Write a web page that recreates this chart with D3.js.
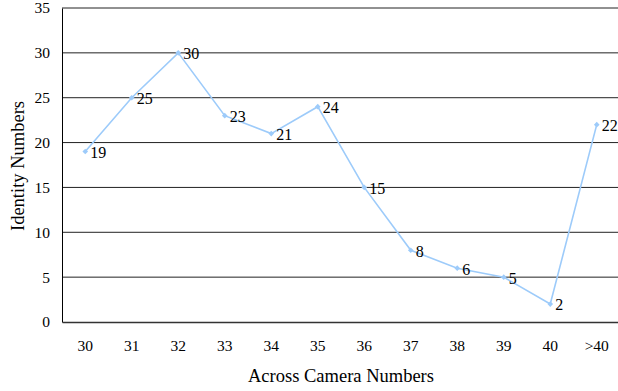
<!DOCTYPE html>
<html>
<head>
<meta charset="utf-8">
<script src="https://cdn.jsdelivr.net/npm/d3@7"></script>
<style>
  body { margin: 0; background: #fff; }
  text { font-family: 'Liberation Serif', 'Times New Roman', serif; fill: #000; }
</style>
</head>
<body>
<div id="chart"></div>
<script>
const categories = ['30', '31', '32', '33', '34', '35', '36', '37', '38', '39', '40', '>40']
const identityNumbers = [19, 25, 30, 23, 21, 24, 15, 8, 6, 5, 2, 22]
const yTicks = [0, 5, 10, 15, 20, 25, 30, 35]

const width = 618, height = 391
const MARGIN = { top: 8, right: -2, bottom: 69, left: 62 }
const W = width - MARGIN.left - MARGIN.right
const H = height - MARGIN.top - MARGIN.bottom

const svg = d3.select('#chart').append('svg').attr('width', width).attr('height', height)
const g = svg.append('g').attr('transform', `translate(${MARGIN.left},${MARGIN.top})`)

const x = d3.scaleBand().domain(categories).range([0, W])
const y = d3.scaleLinear().domain([0, 35]).range([H, 0])

// gridlines
g.append('g').selectAll('line').data(yTicks.filter(d => d > 0)).join('line')
  .attr('x1', 0).attr('x2', W)
  .attr('y1', d => y(d)).attr('y2', d => y(d))
  .attr('stroke', '#222').attr('stroke-width', 1)

// axes
const yAxis = g.append('g').call(d3.axisLeft(y).tickValues(yTicks).tickSize(0).tickPadding(12))
yAxis.select('.domain').attr('stroke', '#000')
yAxis.selectAll('text').style('font-size', '15.5px')

const xAxis = g.append('g').attr('transform', `translate(0,${H})`)
  .call(d3.axisBottom(x).tickSize(0).tickPadding(18))
xAxis.select('.domain').attr('stroke', '#333').attr('stroke-width', 1.5)
xAxis.selectAll('text').style('font-size', '15.5px')
svg.selectAll('.tick text').style('font-family', "'Liberation Serif', serif")

// line
const cx = d => x(d) + x.bandwidth() / 2
const data = categories.map((c, i) => ({ c, v: identityNumbers[i] }))
g.append('path').datum(data)
  .attr('fill', 'none').attr('stroke', '#9dcbfa').attr('stroke-width', 1.6)
  .attr('d', d3.line().x(d => cx(d.c)).y(d => y(d.v)))

g.append('g').selectAll('rect').data(data).join('rect')
  .attr('x', d => cx(d.c) - 2).attr('y', d => y(d.v) - 2)
  .attr('width', 4).attr('height', 4)
  .attr('transform', d => `rotate(45,${cx(d.c)},${y(d.v)})`)
  .attr('fill', '#9dcbfa')

g.append('g').selectAll('text').data(data).join('text')
  .attr('x', d => cx(d.c) + 5).attr('y', d => y(d.v))
  .attr('dy', '0.4em').style('font-size', '16px')
  .text(d => d.v)

// titles
svg.append('text').attr('transform', 'rotate(-90)')
  .attr('x', -(MARGIN.top + H / 2 + 1)).attr('y', 24)
  .attr('text-anchor', 'middle').style('font-size', '18.5px').text('Identity Numbers')
svg.append('text').attr('x', 341).attr('y', 382)
  .attr('text-anchor', 'middle').style('font-size', '18.5px').text('Across Camera Numbers')
</script>
</body>
</html>
